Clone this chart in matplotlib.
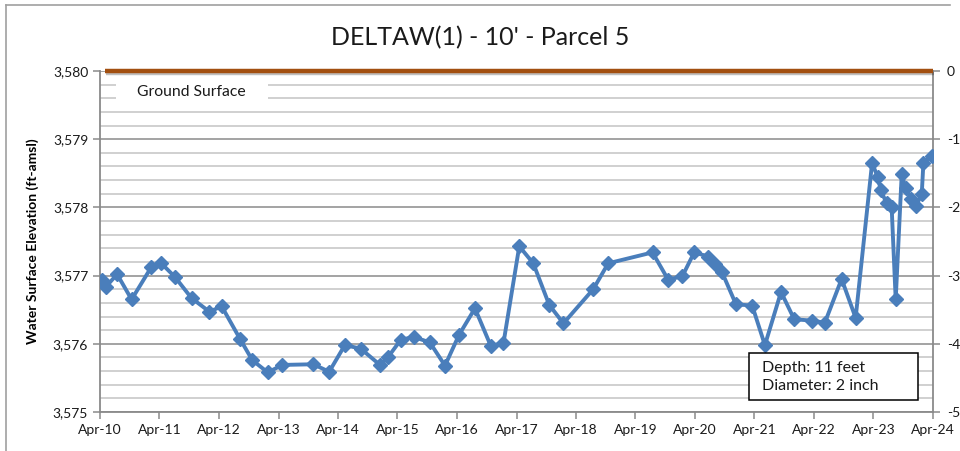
import matplotlib
matplotlib.use("Agg")
import matplotlib.pyplot as plt
import matplotlib.dates as mdates
import matplotlib.ticker as mticker
import matplotlib.patheffects as pe
from matplotlib.patches import Rectangle
from matplotlib.lines import Line2D
import pandas as pd

plt.rcParams['font.family'] = ['Lato', 'DejaVu Sans']
plt.rcParams['axes.unicode_minus'] = False

title = "DELTAW(1) - 10' - Parcel 5"
ground_label = "Ground Surface"
ground_elev = 3580
note = "Depth: 11 feet\nDiameter: 2 inch"

dates = [
    "2010-04-11", "2010-05-05", "2010-07-15", "2010-10-12", "2011-02-09",
    "2011-04-08", "2011-07-05", "2011-10-15", "2012-02-02", "2012-04-17",
    "2012-08-08", "2012-10-22", "2013-01-25", "2013-04-24", "2013-11-01",
    "2014-02-06", "2014-05-13", "2014-08-18", "2014-12-15", "2015-02-01",
    "2015-04-22", "2015-07-12", "2015-10-17", "2016-01-18", "2016-04-13",
    "2016-07-20", "2016-10-25", "2017-01-11", "2017-04-18", "2017-07-13",
    "2017-10-19", "2018-01-14", "2018-07-16", "2018-10-16", "2019-07-15",
    "2019-10-19", "2020-01-14", "2020-03-27", "2020-06-21", "2020-08-01",
    "2020-09-12", "2020-12-08", "2021-03-18", "2021-06-04", "2021-09-11",
    "2021-12-01", "2022-03-20", "2022-06-07", "2022-09-18", "2022-12-13",
    "2023-03-24", "2023-04-27", "2023-05-17", "2023-06-21", "2023-07-22",
    "2023-08-16", "2023-09-22", "2023-10-16", "2023-11-18", "2023-12-19",
    "2024-01-23", "2024-02-02", "2024-03-24",
]
elev = [
    3576.94, 3576.83, 3577.02, 3576.65, 3577.12,
    3577.19, 3576.98, 3576.67, 3576.47, 3576.55,
    3576.07, 3575.76, 3575.58, 3575.69, 3575.70,
    3575.59, 3575.98, 3575.93, 3575.69, 3575.80,
    3576.06, 3576.10, 3576.02, 3575.68, 3576.13,
    3576.52, 3575.97, 3576.01, 3577.43, 3577.18,
    3576.57, 3576.30, 3576.80, 3577.18, 3577.34,
    3576.94, 3576.99, 3577.34, 3577.28, 3577.17,
    3577.06, 3576.58, 3576.56, 3575.98, 3576.76,
    3576.36, 3576.34, 3576.31, 3576.95, 3576.38,
    3578.65, 3578.45, 3578.25, 3578.06, 3578.01,
    3576.65, 3578.49, 3578.28, 3578.13, 3578.02,
    3578.20, 3578.65, 3578.76,
]

x = pd.to_datetime(dates)
x_start = pd.Timestamp("2010-04-01")
x_end = pd.Timestamp("2024-04-01")

fig = plt.figure(figsize=(9.6, 4.51), dpi=100)
ax = fig.add_axes([100 / 960, 39 / 451, 833 / 960, 341 / 451])

# chart area frame (only top and left edges are inside the picture)
frame_kw = dict(transform=fig.transFigure, color='#a0a0a0', linewidth=1.2)
fig.add_artist(Line2D([6 / 960, 950 / 960], [1 - 5 / 451] * 2, **frame_kw))
fig.add_artist(Line2D([6 / 960] * 2, [0, 1 - 5 / 451], **frame_kw))

ax.set_xlim(x_start, x_end)
ax.set_ylim(ground_elev - 5, ground_elev)

ax.yaxis.set_major_locator(mticker.MultipleLocator(1))
ax.yaxis.set_minor_locator(mticker.MultipleLocator(0.2))
ax.yaxis.set_major_formatter(mticker.FuncFormatter(lambda v, p: f"{v:,.0f}"))
ax.xaxis.set_major_locator(mdates.MonthLocator(bymonth=4, bymonthday=1))
ax.xaxis.set_major_formatter(mdates.DateFormatter('%b-%y'))

ax.grid(which='minor', axis='y', color='#c4c4c4', linewidth=1.1)
ax.grid(which='major', axis='y', color='#8a8a8a', linewidth=1.1)
ax.set_axisbelow(True)

for s in ['left', 'bottom', 'right']:
    ax.spines[s].set_color('#8a8a8a')
    ax.spines[s].set_linewidth(1.3)
ax.spines['top'].set_visible(False)
ax.tick_params(axis='both', which='major', length=5, color='#8a8a8a',
               labelsize=10, labelcolor='#1a1a1a', width=1.1)
ax.tick_params(axis='y', which='minor', length=0)

ax.plot([x_start + pd.Timedelta(days=30), x_end], [ground_elev, ground_elev],
        color='#a24f10', linewidth=3.2, solid_capstyle='butt', clip_on=False,
        path_effects=[pe.SimpleLineShadow(offset=(1, -1.5), alpha=0.25),
                      pe.Normal()], zorder=5)

ax.plot(x, elev, color='#4a7ebb', linewidth=2.8, marker='D', markersize=7,
        markeredgecolor='#4a7ebb', zorder=4)

# legend entry: white patch over gridlines with the label
ax.add_patch(Rectangle((0.019, 0.90), 0.183, 0.078, transform=ax.transAxes,
                       facecolor='white', edgecolor='none', zorder=2))
ax.text(0.045, 0.939, ground_label, transform=ax.transAxes, fontsize=11.3,
        color='#1a1a1a', va='center', ha='left', zorder=3)

# well info box
ax.add_patch(Rectangle((0.779, 0.035), 0.203, 0.138, transform=ax.transAxes,
                       facecolor='white', edgecolor='black', linewidth=1.1,
                       zorder=6))
ax.text(0.795, 0.103, note, transform=ax.transAxes, fontsize=11.5,
        color='#1a1a1a', va='center', ha='left', linespacing=1.3, zorder=7)

ax.set_ylabel("Water Surface Elevation (ft-amsl)", fontsize=10,
              fontweight='bold', labelpad=10)

ax2 = ax.twinx()
ax2.set_ylim(-5, 0)
ax2.yaxis.set_major_locator(mticker.MultipleLocator(1))
ax2.yaxis.set_major_formatter(mticker.FuncFormatter(lambda v, p: f"{v:.0f}"))
for s in ax2.spines.values():
    s.set_visible(False)
ax2.tick_params(axis='y', length=5, color='#8a8a8a', labelsize=10,
                labelcolor='#1a1a1a', width=1.1, pad=5)

fig.text(480 / 960, 1 - 38 / 451, title, fontsize=18, ha='center',
         va='center', color='#1a1a1a')

fig.savefig("out.png", dpi=100)
